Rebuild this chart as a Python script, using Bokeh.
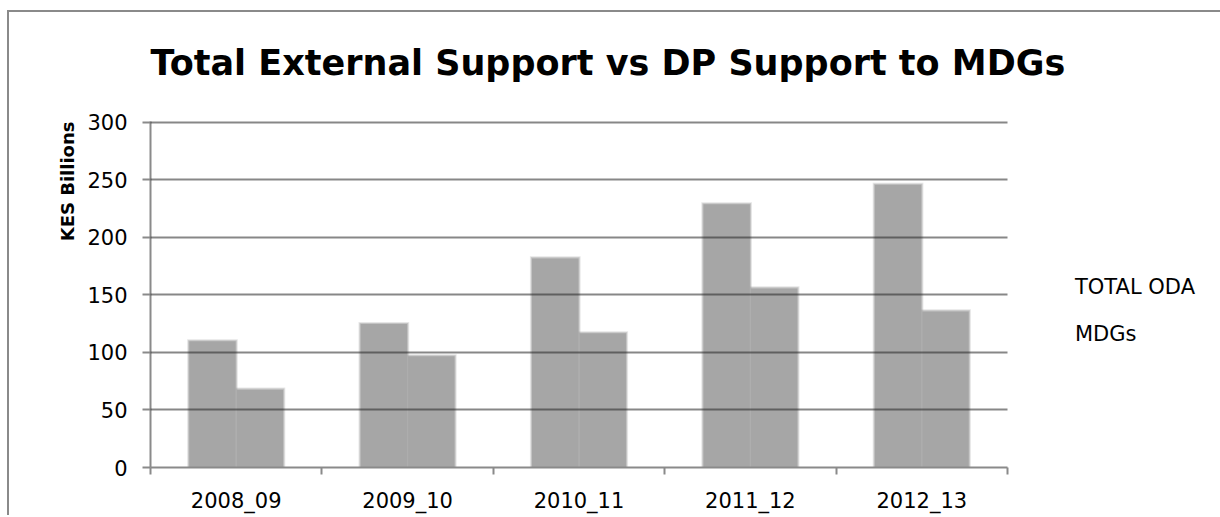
import numpy as np
from bokeh.plotting import figure
from bokeh.models import FixedTicker, Range1d, Title, Legend, LegendItem
from bokeh.embed import file_html
from bokeh.resources import INLINE

# ---- data ----
categories = ["2008_09", "2009_10", "2010_11", "2011_12", "2012_13"]
total_oda = [110, 125, 182, 229, 246]
mdgs = [68, 97, 117, 156, 136]
series_names = ["TOTAL ODA", "MDGs"]
y_ticks = [0, 50, 100, 150, 200, 250, 300]
title_text = "Total External Support vs DP Support to MDGs"
y_label_text = "KES Billions"

FONT = "DejaVu Sans"
GRAY = "#8a8a8a"

# ---- layout (pixels) ----
OX, OY = 9, 12                      # chart box offset (outer frame lines)
FL, FR, FT, FB = 150, 1007, 121, 467  # plot frame in picture pixels
FW, FH = FR - FL, FB - FT
BL, BR, BT, BB = FL - OX, 1212 - FR, FT - OY, 509 - FB
YMAX = y_ticks[-1]
NCAT = len(categories)

p = figure(frame_width=FW, frame_height=FH, x_range=Range1d(0, NCAT),
           y_range=Range1d(0, YMAX + 0.5),
           output_backend="svg", toolbar_location=None,
           min_border_left=BL, min_border_right=BR, min_border_top=BT, min_border_bottom=BB)
p.styles = {"margin-left": "7px", "margin-top": "10px",
            "border-left": f"2px solid {GRAY}", "border-top": f"2px solid {GRAY}"}
p.outline_line_color = None
p.background_fill_color = "white"
p.border_fill_color = "white"

# ---- bars with soft edges ----
bar_w = 0.277
xc = np.arange(NCAT) + 0.5
x_pos = [xc - bar_w / 2, xc + bar_w / 2]
vals = [np.array(total_oda, float), np.array(mdgs, float)]
px_x = NCAT / FW
px_y = YMAX / FH
for e, a in [(1.6, 0.28), (0.6, 0.55), (-0.5, 1.0)]:
    for xs, v in zip(x_pos, vals):
        p.vbar(x=xs, width=bar_w + 2 * e * px_x, top=v + e * px_y, bottom=0,
               fill_color="#a6a6a6", fill_alpha=a, line_color=None)

# ---- grid ----
p.xgrid.visible = False
p.ygrid.ticker = FixedTicker(ticks=y_ticks)
p.ygrid.grid_line_color = "#252525"
p.ygrid.grid_line_alpha = 0.55
p.ygrid.grid_line_width = 2
p.ygrid.level = "overlay"

# ---- axes ----
ax = p.xaxis[0]
ax.ticker = FixedTicker(ticks=list(xc), minor_ticks=list(range(NCAT + 1)))
ax.major_label_overrides = {float(x): c for x, c in zip(xc, categories)}
ax.major_tick_out = 0
ax.major_tick_in = 0
ax.minor_tick_out = 7
ax.minor_tick_in = 0
ax.minor_tick_line_color = GRAY
ax.minor_tick_line_width = 2
ax.axis_line_color = GRAY
ax.axis_line_width = 2
ax.major_label_text_font = FONT
ax.major_label_text_font_size = "21px"
ax.major_label_text_color = "black"
ax.major_label_standoff = 14

ay = p.yaxis[0]
ay.ticker = FixedTicker(ticks=y_ticks)
ay.major_tick_out = 8
ay.major_tick_in = 0
ay.minor_tick_line_color = None
ay.major_tick_line_color = GRAY
ay.major_tick_line_width = 2
ay.axis_line_color = GRAY
ay.axis_line_width = 2
ay.major_label_text_font = FONT
ay.major_label_text_font_size = "21px"
ay.major_label_text_color = "black"
ay.major_label_standoff = 15

# ---- title (with an empty spacer title between it and the frame) ----
p.add_layout(Title(text=" ", text_font_size="20px"), "above")
p.title.text = title_text
p.title.align = "left"
p.title.offset = 0
p.title.text_font = FONT
p.title.text_font_style = "bold"
p.title.text_font_size = "35px"
p.title.text_color = "black"

# ---- y label (as a side title, top-aligned) ----
p.add_layout(Title(text=y_label_text, align="right", text_font=FONT,
                   text_font_style="bold", text_font_size="18px",
                   text_color="black", standoff=13), "left")

# ---- legend (text only, no swatches) ----
dummies = [p.scatter(x=[], y=[], fill_alpha=0, line_alpha=0) for _ in series_names]
legend = Legend(items=[LegendItem(label=n, renderers=[r]) for n, r in zip(series_names, dummies)],
                location="top_left", title=" ", title_text_font_size="10px",
                title_standoff=143,
                glyph_width=68, glyph_height=24, label_height=24,
                label_standoff=0, spacing=23, padding=0, margin=0,
                border_line_color=None, background_fill_alpha=0,
                label_text_font=FONT, label_text_font_size="21px",
                label_text_color="black")
p.add_layout(legend, "right")

open("out.html", "w").write(file_html(p, INLINE))
